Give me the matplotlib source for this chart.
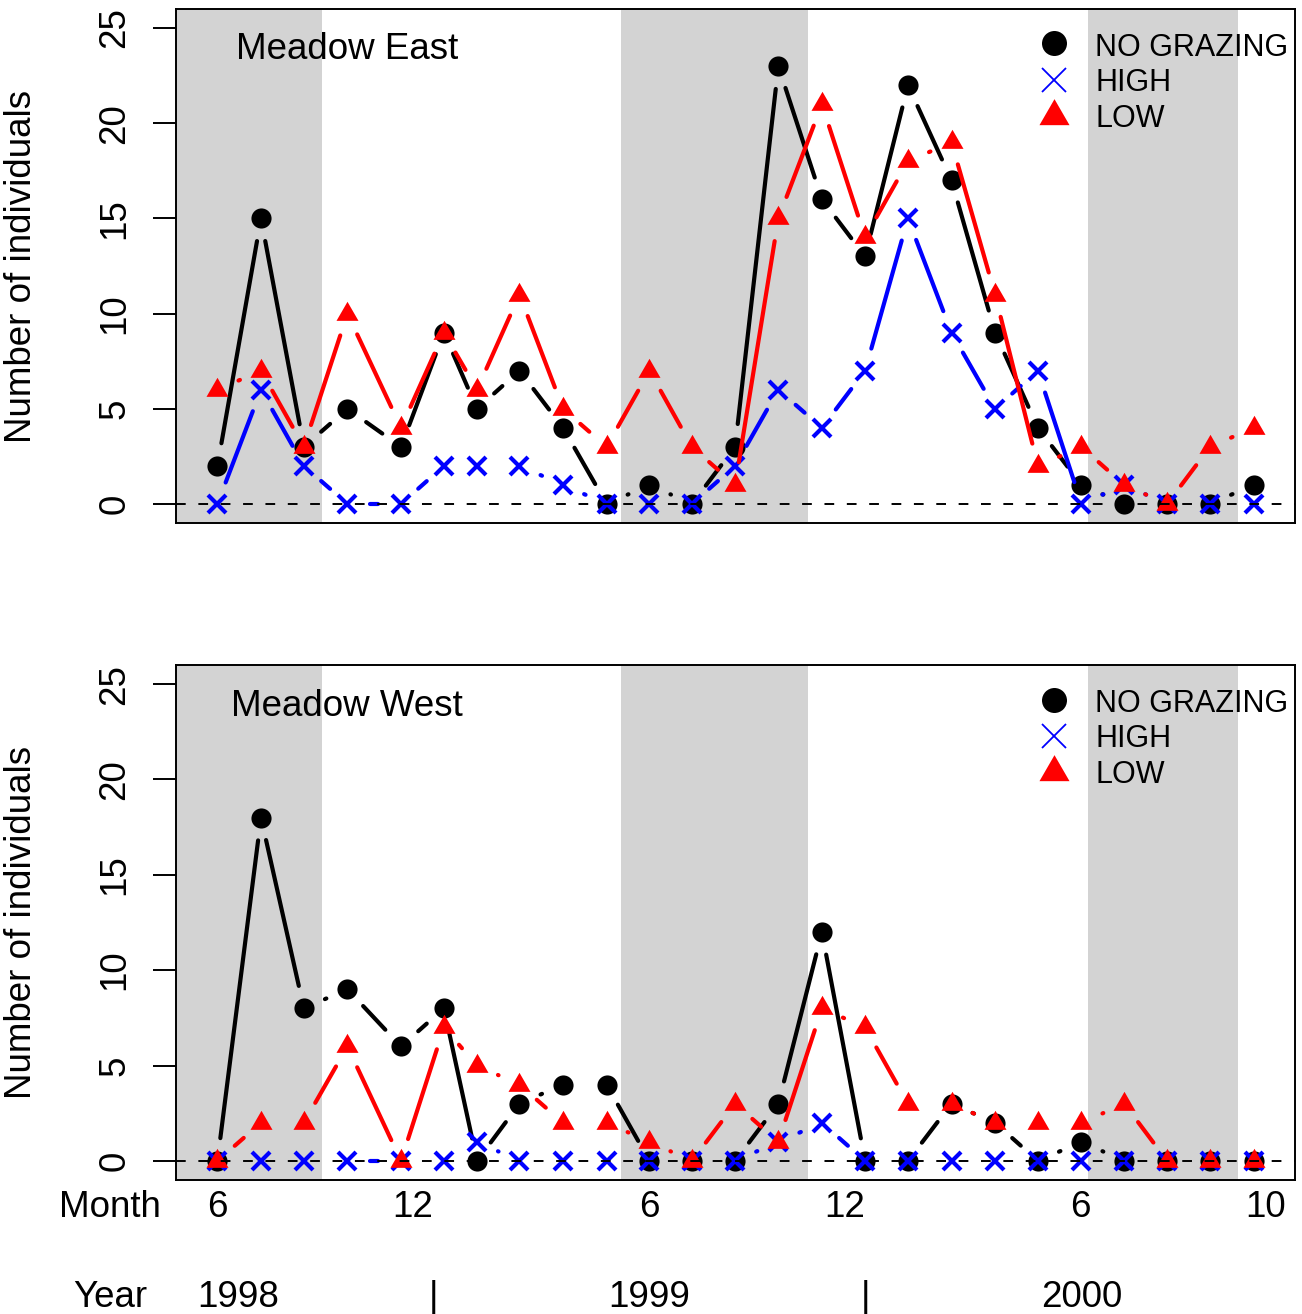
import matplotlib
matplotlib.use('Agg')
import matplotlib.pyplot as plt
import matplotlib.transforms as mtransforms
from matplotlib.collections import LineCollection
import numpy as np

plt.rcParams['font.family'] = 'Liberation Sans'

# ---------- Data ----------
# sampling dates, in months counted from January 1998
sample_month = [6.0, 7.21, 8.40, 9.61, 11.10, 12.29, 13.21, 14.39, 15.60, 16.81,
                18.0, 19.18, 20.38, 21.58, 22.79, 23.99, 25.18, 26.39, 27.60, 28.79,
                30.0, 31.19, 32.38, 33.57, 34.78]

east_none = [2, 15, 3, 5, 3, 9, 5, 7, 4, 0, 1, 0, 3, 23, 16, 13, 22, 17, 9, 4, 1, 0, 0, 0, 1]
east_high = [0, 6, 2, 0, 0, 2, 2, 2, 1, 0, 0, 0, 2, 6, 4, 7, 15, 9, 5, 7, 0, 1, 0, 0, 0]
east_low = [6, 7, 3, 10, 4, 9, 6, 11, 5, 3, 7, 3, 1, 15, 21, 14, 18, 19, 11, 2, 3, 1, 0, 3, 4]

west_none = [0, 18, 8, 9, 6, 8, 0, 3, 4, 4, 0, 0, 0, 3, 12, 0, 0, 3, 2, 0, 1, 0, 0, 0, 0]
west_high = [0, 0, 0, 0, 0, 0, 1, 0, 0, 0, 0, 0, 0, 1, 2, 0, 0, 0, 0, 0, 0, 0, 0, 0, 0]
west_low = [0, 2, 2, 6, 0, 7, 5, 4, 2, 2, 1, 0, 3, 1, 8, 7, 3, 3, 2, 2, 2, 3, 0, 0, 0]

# shaded periods
shade_start = [4.0, 17.21, 30.17]
shade_end = [8.91, 22.39, 34.36]

month_pos = [6.0, 11.42, 18.0, 23.43, 29.96, 35.1]
month_lab = ['6', '12', '6', '12', '6', '10']
year_pos = [6.59, 18.0, 30.0]
year_lab = ['1998', '1999', '2000']
year_sep = [12.0, 24.0]

legend_lab = ['NO GRAZING', 'HIGH', 'LOW']

# ---------- Style ----------
W, H = 1302, 1314
FS = 26.5
GAP = 23  # pixels left open round each point (R type="b")
TRI = [(-1, -0.577), (1, -0.577), (0, 1.155), (-1, -0.577)]

fig = plt.figure(figsize=(W / 100, H / 100), dpi=100)


def add_axes_px(left, top, right, bottom):
    return fig.add_axes([left / W, 1 - bottom / H, (right - left) / W, (bottom - top) / H])


def gapped_segments(ax, x, y, gap):
    pts = ax.transData.transform(np.column_stack([x, y]))
    inv = ax.transData.inverted()
    segs = []
    for p0, p1 in zip(pts[:-1], pts[1:]):
        d = p1 - p0
        length = np.hypot(d[0], d[1])
        if length <= 2 * gap:
            continue
        u = d / length
        segs.append(inv.transform([p0 + u * gap, p1 - u * gap]))
    return segs


def draw_panel(ax, none, high, low, title):
    x0, x1 = min(sample_month), max(sample_month)
    pad = 0.04 * (x1 - x0)
    ax.set_xlim(x0 - pad, x1 + pad)
    ax.set_ylim(-1, 26)

    for s, e in zip(shade_start, shade_end):
        ax.axvspan(s, e, color='#D3D3D3', lw=0, zorder=0)

    series = [
        (none, 'black', dict(marker='o', ms=14.5, mew=0)),
        (high, 'blue', dict(marker='x', ms=12.5, mew=3)),
        (low, 'red', dict(marker=TRI, ms=18.3, mew=0)),
    ]
    for k, (vals, col, mk) in enumerate(series):
        segs = gapped_segments(ax, sample_month, vals, GAP)
        ax.add_collection(LineCollection(segs, colors=col, linewidths=3,
                                         capstyle='round', zorder=2 + k))
        ax.plot(sample_month, vals, ls='none', color=col, mfc=col, mec=col,
                zorder=2.5 + k, **mk)

    ax.axhline(0, color='black', lw=1.4, ls=(0, (5, 6.5)), zorder=10)

    ax.text(9.6, 23.35, title, ha='center', va='baseline', fontsize=FS, zorder=11)

    # legend (no box, markers only)
    leg_mk = [dict(marker='o', ms=18, mew=0, color='black'),
              dict(marker='x', ms=17, mew=1.3, color='blue'),
              dict(marker=TRI, ms=25, mew=0, color='red')]
    mk_y = [0.9329, 0.8619, 0.7918]
    txt_y = [0.9095, 0.8405, 0.7714]
    for lab, mk, my, ty in zip(legend_lab, leg_mk, mk_y, txt_y):
        ax.plot([0.7846], [my], transform=ax.transAxes, ls='none', clip_on=False,
                zorder=12, **mk)
        ax.text(0.8213, ty, lab, transform=ax.transAxes, ha='left', va='baseline',
                fontsize=22, zorder=12)

    ax.set_xticks([])
    ax.set_yticks([0, 5, 10, 15, 20, 25])
    ax.tick_params(axis='y', length=16.5, width=1.4, labelsize=FS, pad=15,
                   labelrotation=90)
    for t in ax.get_yticklabels():
        t.set_va('center')
    for sp in ax.spines.values():
        sp.set_linewidth(1.4)


ax_top = add_axes_px(176, 9, 1295, 523)
ax_bot = add_axes_px(176, 665, 1295, 1180)

draw_panel(ax_top, east_none, east_high, east_low, 'Meadow East')
draw_panel(ax_bot, west_none, west_high, west_low, 'Meadow West')

for yc in [266, 922.5]:
    fig.text(22 / W, 1 - yc / H, 'Number of individuals', rotation=90,
             ha='center', va='center', fontsize=FS)

# month / year rows under the lower panel
trans = mtransforms.blended_transform_factory(ax_bot.transData, fig.transFigure)
month_base = 1 - 1217 / H
year_base = 1 - 1307 / H
fig.text(110 / W, month_base, 'Month', ha='center', va='baseline', fontsize=FS)
fig.text(110 / W, year_base, 'Year', ha='center', va='baseline', fontsize=FS)
for p, lab in zip(month_pos, month_lab):
    ax_bot.text(p, month_base, lab, transform=trans, ha='center', va='baseline',
                fontsize=FS, clip_on=False)
for p, lab in zip(year_pos, year_lab):
    ax_bot.text(p, year_base, lab, transform=trans, ha='center', va='baseline',
                fontsize=FS, clip_on=False)
for p in year_sep:
    ax_bot.text(p, year_base, '|', transform=trans, ha='center', va='baseline',
                fontsize=FS, clip_on=False)

fig.savefig('out.png', dpi=100)
